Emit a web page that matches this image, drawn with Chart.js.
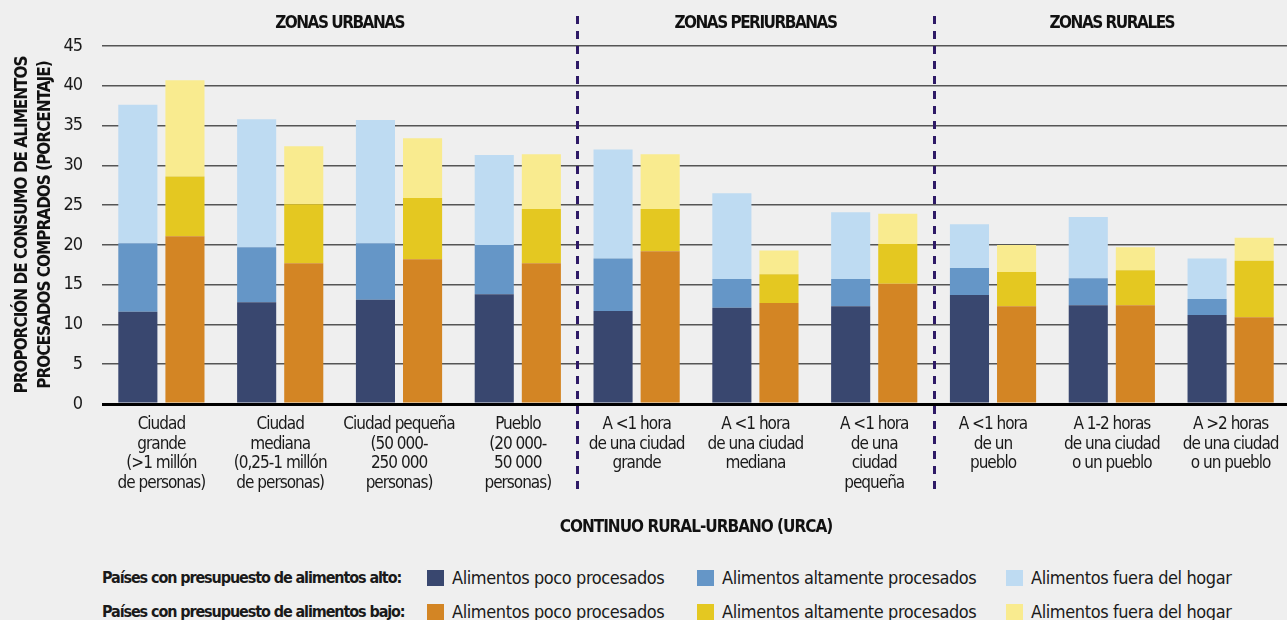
<!DOCTYPE html>
<html lang="es">
<head>
<meta charset="utf-8">
<title>Consumo de alimentos procesados comprados por continuo rural-urbano</title>
<script src="https://cdn.jsdelivr.net/npm/chart.js@4.4.1/dist/chart.umd.min.js"></script>
<style>
  html, body { margin: 0; padding: 0; background: #efefef; overflow: hidden; }
  body {
    width: 1287px; height: 620px; position: relative;
    font-family: "Liberation Sans Narrow", "DejaVu Sans Condensed", "Roboto", sans-serif;
    color: #1a1a1a;
  }
  #wrap { position: absolute; left: 0; top: 0; width: 1296px; height: 540px; }
  .fila { position: absolute; left: 0; height: 20px; width: 1287px; }
  .fila .titulo {
    position: absolute; left: 102px; top: 0; font-weight: bold; font-size: 16px;
    line-height: 20px; letter-spacing: -1.1px; white-space: nowrap;
  }
  .item { position: absolute; top: 0; font-size: 18px; line-height: 20px; white-space: nowrap; letter-spacing: -0.4px; }
  .item i { position: absolute; left: 0; top: 2px; width: 17px; height: 16px; }
  .item span { position: absolute; left: 25px; top: 0; }
</style>
</head>
<body>
<div id="wrap"><canvas id="grafico"></canvas></div>
<div id="leyenda"></div>

<script>
const FUENTE = '"Liberation Sans Narrow", "DejaVu Sans Condensed", "Roboto", sans-serif';

const categorias = [
  ['Ciudad', 'grande', '(>1 millón', 'de personas)'],
  ['Ciudad', 'mediana', '(0,25-1 millón', 'de personas)'],
  ['Ciudad pequeña', '(50 000-', '250 000', 'personas)'],
  ['Pueblo', '(20 000-', '50 000', 'personas)'],
  ['A <1 hora', 'de una ciudad', 'grande'],
  ['A <1 hora', 'de una ciudad', 'mediana'],
  ['A <1 hora', 'de una', 'ciudad', 'pequeña'],
  ['A <1 hora', 'de un', 'pueblo'],
  ['A 1-2 horas', 'de una ciudad', 'o un pueblo'],
  ['A >2 horas', 'de una ciudad', 'o un pueblo']
];

// zonas: nombre, primera y última categoría
const zonas = ['ZONAS URBANAS', 'ZONAS PERIURBANAS', 'ZONAS RURALES'];
const zonaDesde = [0, 4, 7];
const zonaHasta = [3, 6, 9];

// presupuesto alto (porcentaje)
const altoPoco   = [11.6, 12.8, 13.1, 13.8, 11.7, 12.1, 12.3, 13.7, 12.4, 11.2];
const altoAlta   = [8.6, 6.9, 7.1, 6.2, 6.6, 3.6, 3.4, 3.4, 3.4, 2.0];
const altoFuera  = [17.4, 16.1, 15.5, 11.3, 13.7, 10.8, 8.4, 5.5, 7.7, 5.1];
// presupuesto bajo (porcentaje)
const bajoPoco   = [21.1, 17.7, 18.2, 17.7, 19.2, 12.7, 15.1, 12.3, 12.4, 10.9];
const bajoAlta   = [7.5, 7.4, 7.7, 6.8, 5.3, 3.6, 5.0, 4.3, 4.4, 7.1];
const bajoFuera  = [12.1, 7.3, 7.5, 6.9, 6.9, 3.0, 3.8, 3.4, 2.9, 2.9];

const series = ['Alimentos poco procesados', 'Alimentos altamente procesados', 'Alimentos fuera del hogar'];
const coloresAlto = ['#39476f', '#6596c7', '#bedbf2'];
const coloresBajo = ['#d38524', '#e4c821', '#f9eb8f'];

function serie(nombre, datos, color, pila) {
  return {
    label: nombre, data: datos, backgroundColor: color, stack: pila,
    borderWidth: 0, barPercentage: 0.83, categoryPercentage: 0.793
  };
}

const divisiones = {
  id: 'divisiones',
  beforeDraw(chart) {
    // letra más estrecha para ejes y títulos
    chart.ctx.letterSpacing = '-1px';
  },
  afterDraw(chart) {
    const ctx = chart.ctx;
    const x = chart.scales.x;
    const paso = x.getPixelForValue(1) - x.getPixelForValue(0);
    ctx.save();
    // líneas discontinuas entre zonas
    ctx.strokeStyle = '#2e1a66';
    ctx.lineWidth = 3;
    ctx.setLineDash([8, 7]);
    for (let z = 1; z < zonas.length; z++) {
      const px = Math.round(x.getPixelForValue(zonaDesde[z]) - paso / 2) + 0.5;
      ctx.beginPath();
      ctx.moveTo(px, 16);
      ctx.lineTo(px, 490);
      ctx.stroke();
    }
    // títulos de zona
    ctx.setLineDash([]);
    ctx.fillStyle = '#111';
    ctx.font = 'bold 17px ' + FUENTE;
    ctx.letterSpacing = '-1.5px';
    ctx.textAlign = 'center';
    ctx.textBaseline = 'middle';
    zonas.forEach((nombre, z) => {
      const a = x.getPixelForValue(zonaDesde[z]) - paso / 2;
      const b = x.getPixelForValue(zonaHasta[z]) + paso / 2;
      ctx.fillText(nombre, (a + b) / 2, 24);
    });
    ctx.restore();
  }
};

new Chart(document.getElementById('grafico'), {
  type: 'bar',
  data: {
    labels: categorias,
    datasets: [
      serie(series[0], altoPoco, coloresAlto[0], 'alto'),
      serie(series[1], altoAlta, coloresAlto[1], 'alto'),
      serie(series[2], altoFuera, coloresAlto[2], 'alto'),
      serie(series[0], bajoPoco, coloresBajo[0], 'bajo'),
      serie(series[1], bajoAlta, coloresBajo[1], 'bajo'),
      serie(series[2], bajoFuera, coloresBajo[2], 'bajo')
    ]
  },
  options: {
    responsive: true,
    maintainAspectRatio: false,
    animation: false,
    layout: { padding: { top: 46, right: 0, bottom: 0, left: 0 } },
    plugins: { legend: { display: false }, tooltip: { enabled: false } },
    scales: {
      x: {
        stacked: true,
        grid: { display: false, drawTicks: false },
        border: { display: false },
        ticks: {
          color: '#1a1a1a', padding: 11, maxRotation: 0, autoSkip: false,
          font: { family: FUENTE, size: 17, lineHeight: 1.15 }
        },
        title: {
          display: true, text: 'CONTINUO RURAL-URBANO (URCA)', color: '#111',
          font: { family: FUENTE, size: 17, weight: 'bold' }, padding: { top: 0, bottom: 2 }
        },
        afterFit(scale) { scale.height = 136; }
      },
      y: {
        stacked: true, min: 0, max: 45,
        grid: {
          drawTicks: false,
          color: ctx => ctx.tick && ctx.tick.value === 0 ? '#000' : '#555',
          lineWidth: ctx => ctx.tick && ctx.tick.value === 0 ? 3 : 1.5
        },
        border: { display: false },
        ticks: {
          stepSize: 5, padding: 20, color: '#1a1a1a',
          font: { family: FUENTE, size: 18 }
        },
        title: {
          display: true,
          text: ['PROPORCIÓN DE CONSUMO DE ALIMENTOS', 'PROCESADOS COMPRADOS (PORCENTAJE)'],
          color: '#111',
          font: { family: FUENTE, size: 17, weight: 'bold', lineHeight: 1.35 },
          padding: { top: 11, bottom: 0 }
        },
        afterFit(scale) { scale.width = 102; }
      }
    }
  },
  plugins: [divisiones]
});

// leyenda en dos filas
const filas = [
  ['Países con presupuesto de alimentos alto:', coloresAlto, 568],
  ['Países con presupuesto de alimentos bajo:', coloresBajo, 602]
];
const posItems = [427, 697, 1006];
const leyenda = document.getElementById('leyenda');
filas.forEach(([titulo, colores, top]) => {
  const fila = document.createElement('div');
  fila.className = 'fila';
  fila.style.top = top + 'px';
  let html = '<div class="titulo">' + titulo + '</div>';
  series.forEach((nombre, i) => {
    html += '<div class="item" style="left:' + posItems[i] + 'px"><i style="background:' +
      colores[i] + '"></i><span>' + nombre + '</span></div>';
  });
  fila.innerHTML = html;
  leyenda.appendChild(fila);
});
</script>
</body>
</html>
